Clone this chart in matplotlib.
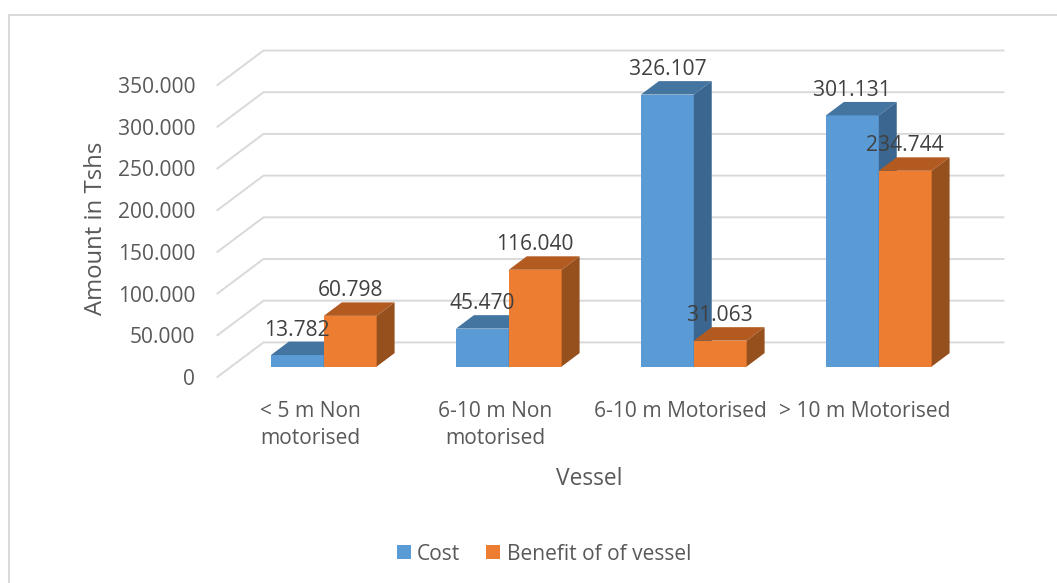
import matplotlib
matplotlib.use('Agg')
import matplotlib.pyplot as plt

categories = ['< 5 m Non\nmotorised', '6-10 m Non\nmotorised', '6-10 m Motorised', '> 10 m Motorised']
cost = [13782, 45470, 326107, 301131]
benefit = [60798, 116040, 31063, 234744]
yticks = [0, 50000, 100000, 150000, 200000, 250000, 300000, 350000]

W, H = 1057, 583
plt.rcParams['font.family'] = 'Open Sans'

fig = plt.figure(figsize=(W / 100, H / 100), dpi=100)
# front plane of the 3d box, in pixels
left, right, base, top = 217.5, 957.5, 376.9, 85
ax = fig.add_axes([left / W, 1 - base / H, (right - left) / W, (base - top) / H])
ax.set_xlim(0, 4)
ax.set_ylim(0, 350000)
ax.patch.set_visible(False)
for s in ax.spines.values():
    s.set_visible(False)

# oblique depth of the box, in data units
depth_x = 46 / 185
depth_y = 34.5 * 350000 / (base - top)
front, back = 0.3, 0.69
bar_w = 1 / 3.5


def proj(x, v, d):
    return x + d * depth_x, v + d * depth_y


# walls and gridlines
grid = '#D9D9D9'
for v in yticks:
    x0, y0 = proj(0, v, 0)
    x1, y1 = proj(0, v, 1)
    x2, y2 = proj(4, v, 1)
    ax.plot([x0, x1, x2], [y0, y1, y2], color=grid, lw=1.4, clip_on=False, zorder=1,
            solid_joinstyle='miter')


def draw_bars(values, offset, col, col_top, col_side, name, z):
    xs = [i + 0.75 * bar_w + offset * bar_w for i in range(4)]
    fx, fy = proj(0, 0, front)
    bars = ax.bar([x + fx for x in xs], values, width=bar_w, bottom=fy, align='edge',
                  color=col, zorder=z, label=name, clip_on=False)
    for x, v in zip(xs, values):
        xl, yb = proj(x, 0, front)
        xr = xl + bar_w
        yt = yb + v
        dx = (back - front) * depth_x
        dy = (back - front) * depth_y
        ax.fill([xl, xr, xr + dx, xl + dx], [yt, yt, yt + dy, yt + dy], color=col_top,
                lw=0, zorder=z, clip_on=False)
        ax.fill([xr, xr + dx, xr + dx, xr], [yb, yb + dy, yt + dy, yt], color=col_side,
                lw=0, zorder=z, clip_on=False)
        ax.annotate(f'{v:,}'.replace(',', '.'), (xl + bar_w / 2, yt), xytext=(0, 18),
                    textcoords='offset points', ha='center', va='center', fontsize=15.1,
                    color='#404040', zorder=10, annotation_clip=False)
    return bars


h1 = draw_bars(cost, 0, '#5B9BD5', '#4475A0', '#3A668F', 'Cost', 3)
h2 = draw_bars(benefit, 1, '#ED7D31', '#B35A20', '#96501D', 'Benefit of of vessel', 4)

ax.set_yticks(yticks)
ax.set_yticklabels([f'{v:,}'.replace(',', '.') for v in yticks], fontsize=15.1, color='#595959')
ax.set_xticks([0.5, 1.5, 2.5, 3.5])
ax.set_xticklabels(categories, fontsize=15.1, color='#595959', linespacing=1.42)
ax.tick_params(axis='y', length=0, pad=16)
ax.tick_params(axis='x', length=0, pad=17)

ax.set_xlabel('Vessel', fontsize=16.4, color='#595959', va='center')
ax.xaxis.set_label_coords(0.503, (base - 479) / (base - top))
ax.set_ylabel('Amount in Tshs', fontsize=17.2, color='#595959', va='center')
ax.yaxis.set_label_coords((96 - left) / (right - left), (base - 228) / (base - top))

fig.legend(handles=[h1, h2], loc='center', bbox_to_anchor=(544 / W, 1 - 554 / H), ncol=2,
           frameon=False, fontsize=15.1, labelcolor='#595959', handlelength=0.67,
           handleheight=0.67, handletextpad=0.3, columnspacing=1.24)

# outer chart frame, open on the right and bottom
frame = dict(color=grid, lw=1.4, transform=fig.transFigure, clip_on=False)
fig.add_artist(plt.Line2D([8.5 / W, 8.5 / W], [0, 1 - 14.5 / H], **frame))
fig.add_artist(plt.Line2D([8.5 / W, 1], [1 - 14.5 / H, 1 - 14.5 / H], **frame))

fig.savefig('out.png', dpi=100)
